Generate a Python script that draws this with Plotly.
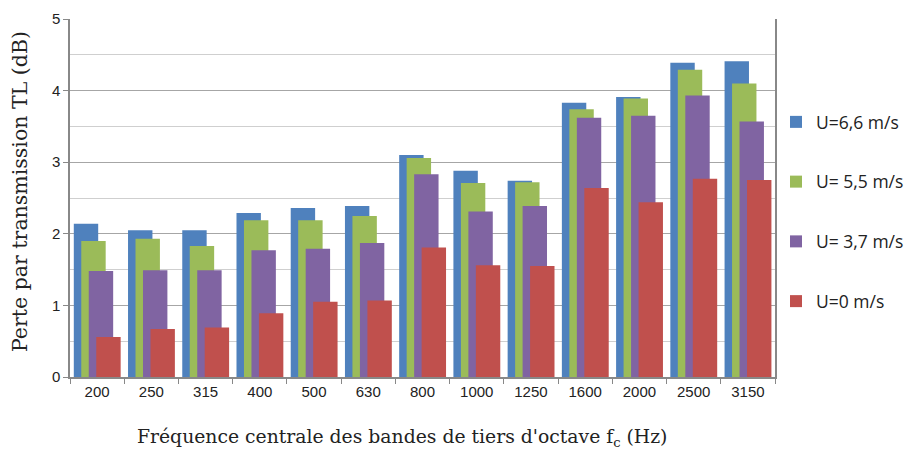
import plotly.graph_objects as go

# One-third octave band centre frequencies (Hz)
bands = ["200", "250", "315", "400", "500", "630", "800", "1000",
         "1250", "1600", "2000", "2500", "3150"]

# Transmission loss TL (dB) for each flow velocity
tl_u66 = [2.14, 2.05, 2.05, 2.29, 2.36, 2.39, 3.10, 2.88, 2.74, 3.83, 3.91, 4.39, 4.41]
tl_u55 = [1.90, 1.93, 1.83, 2.19, 2.19, 2.25, 3.06, 2.71, 2.72, 3.74, 3.89, 4.29, 4.10]
tl_u37 = [1.48, 1.49, 1.49, 1.77, 1.79, 1.87, 2.83, 2.31, 2.39, 3.62, 3.65, 3.93, 3.57]
tl_u0 = [0.56, 0.67, 0.69, 0.89, 1.05, 1.07, 1.81, 1.56, 1.55, 2.64, 2.44, 2.77, 2.75]

series = [
    ("U=6,6 m/s", tl_u66, "#4F81BD"),
    ("U= 5,5 m/s", tl_u55, "#9BBB59"),
    ("U= 3,7 m/s", tl_u37, "#8064A2"),
    ("U=0 m/s", tl_u0, "#C0504D"),
]

x_title = "Fréquence centrale des bandes de tiers d'octave f<sub>c</sub> (Hz)"
y_title = "Perte par transmission TL (dB)"

positions = list(range(len(bands)))
bar_width = 0.45
offsets = [-0.43, -0.292, -0.154, -0.016]

fig = go.Figure()
for (name, vals, color), off in zip(series, offsets):
    fig.add_trace(go.Bar(
        x=positions, y=vals, name=name,
        width=bar_width, offset=off,
        marker=dict(color=color, line=dict(width=0)),
        legendgroup=name,
    ))

serif = "DejaVu Serif, serif"

fig.update_layout(
    barmode="overlay",
    width=909, height=450,
    margin=dict(l=70, r=134, t=19, b=73, autoexpand=False),
    plot_bgcolor="white", paper_bgcolor="white",
    font=dict(family="Liberation Sans, Arial, sans-serif", size=15, color="#222"),
    showlegend=True,
    legend=dict(
        x=776 / 909, xanchor="left", y=1 - 104 / 450, yanchor="top",
        xref="container", yref="container",
        font=dict(family="Open Sans, sans-serif", size=17.5, color="#222"),
        tracegroupgap=34, itemwidth=30,
        bgcolor="rgba(0,0,0,0)",
    ),
    xaxis=dict(
        range=[-0.5, len(bands) - 0.5],
        tickvals=positions, ticktext=bands,
        ticks="", showgrid=False, automargin=False,
        showline=True, linecolor="#888", linewidth=1.5,
        minor=dict(tickvals=[p - 0.5 for p in positions] + [len(bands) - 0.5],
                   ticks="outside", ticklen=5, tickcolor="#888", showgrid=False),
    ),
    yaxis=dict(
        range=[0, 5], dtick=1, tick0=0, automargin=False,
        ticks="outside", ticklen=5, tickcolor="#888",
        showgrid=True, gridcolor="#a6a6a6", gridwidth=1,
        minor=dict(dtick=0.5, showgrid=True, gridcolor="#cfcfcf", gridwidth=1),
        showline=True, linecolor="#888", linewidth=1.5, mirror=True,
        zeroline=False,
    ),
    annotations=[
        dict(text=x_title, xref="paper", yref="paper",
             x=(402 - 70) / 705, y=(377 - 438) / 358,
             xanchor="center", yanchor="middle", showarrow=False,
             font=dict(family=serif, size=18.8, color="#222")),
        dict(text=y_title, xref="paper", yref="paper",
             x=(20 - 70) / 705, y=(377 - 192) / 358, textangle=-90,
             xanchor="center", yanchor="middle", showarrow=False,
             font=dict(family=serif, size=20.5, color="#222")),
    ],
)

fig.write_html("out.html")
